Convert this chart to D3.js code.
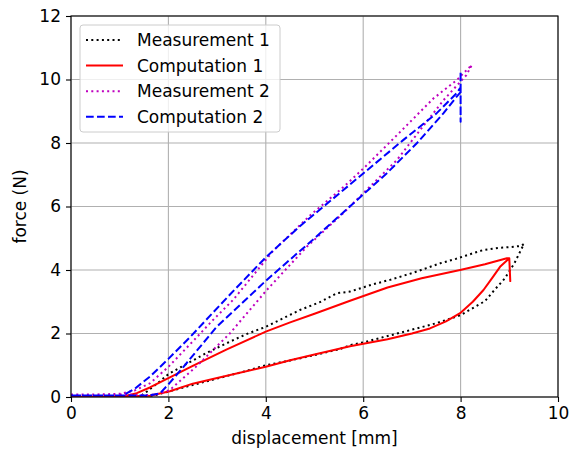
<!DOCTYPE html>
<html>
<head>
<meta charset="utf-8">
<script src="https://cdnjs.cloudflare.com/ajax/libs/d3/7.8.5/d3.min.js"></script>
<style>
  body { margin: 0; background: #fff; }
  text { font-family: "DejaVu Sans", sans-serif; }
</style>
</head>
<body>
<script>
//Tick values
var xTicks = [0, 2, 4, 6, 8, 10];
var yTicks = [0, 2, 4, 6, 8, 10, 12];

//Measurement 1 (black dotted)
var meas1X = [0, 0.5, 1.0, 1.5, 1.7, 2.0, 2.5, 3.0, 3.5, 4.0, 4.5, 5.0, 5.5, 5.75, 6.0, 6.4, 6.8, 7.2, 7.4, 7.7, 8.0, 8.25, 8.5, 8.7, 8.9, 9.1, 9.3,
  9.25, 9.0, 8.8, 8.47, 8.3, 8.1, 7.9, 7.58, 7.3, 7.0, 6.55, 6.2, 5.73, 5.46, 5.1, 4.7, 4.0, 3.6, 3.26, 2.8, 2.44, 2.0, 1.83, 1.55, 1.4];
var meas1Y = [0, 0, 0, 0.02, 0.05, 0.17, 0.38, 0.58, 0.78, 1.0, 1.15, 1.32, 1.5, 1.64, 1.72, 1.88, 2.04, 2.2, 2.28, 2.42, 2.58, 2.8, 3.02, 3.38, 3.72, 4.2, 4.82,
  4.76, 4.72, 4.7, 4.63, 4.55, 4.45, 4.35, 4.21, 4.06, 3.9, 3.69, 3.55, 3.32, 3.27, 2.98, 2.74, 2.21, 1.98, 1.74, 1.4, 1.1, 0.72, 0.5, 0.16, 0];

//Computation 1 (red solid)
var comp1X = [0, 1.07, 1.35, 1.62, 2.03, 2.5, 3.2, 4.0, 4.5, 5.0, 5.73, 6.5, 7.2, 7.99, 8.5, 8.95, 9.0, 9.02, 9.0,
  8.95, 8.81, 8.65, 8.47, 8.25, 7.99, 7.7, 7.37, 7.0, 6.5, 5.73, 5.0, 4.5, 4.0, 3.0, 2.5, 2.03, 1.62, 1.0, 0];
var comp1Y = [0, 0.02, 0.12, 0.3, 0.62, 0.98, 1.5, 2.06, 2.35, 2.62, 3.03, 3.45, 3.74, 4.0, 4.18, 4.37, 4.37, 3.65, 4.35,
  4.3, 4.1, 3.75, 3.37, 3.0, 2.64, 2.38, 2.16, 2.0, 1.82, 1.6, 1.34, 1.16, 0.95, 0.6, 0.42, 0.18, 0.04, 0.02, 0];

//Measurement 2 (magenta dotted)
var meas2X = [0, 0.5, 1.0, 1.3, 1.62, 2.0, 2.5, 2.9, 3.33, 4.15, 4.91, 5.6, 6.02, 6.76, 7.44, 7.92, 8.23,
  8.12, 7.65, 7.17, 6.69, 5.93, 5.59, 4.84, 4.02, 3.26, 2.6, 2.03, 1.75, 1.5, 1.0];
var meas2Y = [0.08, 0.08, 0.1, 0.2, 0.43, 0.95, 1.75, 2.4, 3.06, 4.6, 5.72, 6.62, 7.22, 8.35, 9.4, 9.98, 10.46,
  10.14, 9.35, 8.41, 7.46, 6.31, 5.79, 4.73, 3.37, 2.0, 1.0, 0.22, 0.08, 0.06, 0.08];

//Computation 2 (blue dashed)
var comp2X = [0, 1.07, 1.3, 1.62, 2.0, 2.44, 3.26, 4.0, 4.7, 5.32, 6.0, 6.82, 7.51, 7.92, 8.0, 8.0, 8.0, 8.0,
  7.92, 7.65, 7.1, 6.48, 5.87, 5.0, 4.0, 2.99, 2.31, 2.0, 1.83, 1.62, 1.0, 0];
var comp2Y = [0.05, 0.05, 0.25, 0.64, 1.2, 1.88, 3.22, 4.4, 5.38, 6.17, 7.04, 8.09, 8.94, 9.57, 9.75, 10.25, 8.67, 9.6,
  9.46, 8.94, 7.99, 7.04, 6.2, 5.0, 3.66, 2.21, 0.95, 0.4, 0.12, 0.05, 0.05, 0.05];

var series = [
  {name: "Measurement 1", x: meas1X, y: meas1Y, color: "#000000", dash: "2,3.3"},
  {name: "Computation 1", x: comp1X, y: comp1Y, color: "#ff0000", dash: null},
  {name: "Measurement 2", x: meas2X, y: meas2Y, color: "#bf00bf", dash: "2,3.3"},
  {name: "Computation 2", x: comp2X, y: comp2Y, color: "#0000ff", dash: "7.7,3.3"}
];

var fontSize = "17px";

var margin = {left: 71, right: 11, top: 16, bottom: 53},
    width = 569 - margin.left - margin.right,
    height = 450 - margin.top - margin.bottom;

var svg = d3.select("body")
    .append("svg")
    .attr("width", 569)
    .attr("height", 450)
    .append("g")
    .attr("transform", "translate(" + margin.left + "," + margin.top + ")");

var xScale = d3.scaleLinear().domain([0, 10]).range([0, width]);
var yScale = d3.scaleLinear().domain([0, 12]).range([height, 0]);

//Grid lines
svg.selectAll(".xgrid")
    .data(xTicks)
    .enter().append("line")
    .attr("x1", function(d) { return xScale(d); })
    .attr("x2", function(d) { return xScale(d); })
    .attr("y1", 0)
    .attr("y2", height)
    .style("stroke", "#b0b0b0")
    .style("stroke-width", 1.1);

svg.selectAll(".ygrid")
    .data(yTicks)
    .enter().append("line")
    .attr("y1", function(d) { return yScale(d); })
    .attr("y2", function(d) { return yScale(d); })
    .attr("x1", 0)
    .attr("x2", width)
    .style("stroke", "#b0b0b0")
    .style("stroke-width", 1.1);

//Data lines, clipped to the plot
svg.append("clipPath").attr("id", "clip")
    .append("rect").attr("x", 0).attr("y", 0).attr("width", width).attr("height", height);

var line = d3.line()
    .x(function(d) { return xScale(d[0]); })
    .y(function(d) { return yScale(d[1]); });

series.forEach(function(s) {
    var pts = s.x.map(function(v, i) { return [v, s.y[i]]; });
    svg.append("path")
        .attr("d", line(pts))
        .attr("clip-path", "url(#clip)")
        .style("fill", "none")
        .style("stroke", s.color)
        .style("stroke-width", 2)
        .style("stroke-linejoin", "round")
        .style("stroke-dasharray", s.dash);
});

//Axes
var xAxis = d3.axisBottom(xScale).tickValues(xTicks).tickSize(5).tickPadding(5).tickFormat(d3.format("d"));
var yAxis = d3.axisLeft(yScale).tickValues(yTicks).tickSize(5).tickPadding(5).tickFormat(d3.format("d"));

var gx = svg.append("g")
    .attr("transform", "translate(0," + height + ")")
    .call(xAxis);
var gy = svg.append("g").call(yAxis);

[gx, gy].forEach(function(g) {
    g.select(".domain").remove();
    g.selectAll("line").style("stroke", "#000").style("stroke-width", 1.1);
    g.selectAll("text").attr("font-size", fontSize).style("fill", "#000")
        .style("font-family", "DejaVu Sans");
});

//Frame
svg.append("rect")
    .attr("width", width)
    .attr("height", height)
    .style("fill", "none")
    .style("stroke", "#000")
    .style("stroke-width", 1.1);

//Axis labels
svg.append("text")
    .attr("x", width / 2)
    .attr("y", height + 47)
    .style("text-anchor", "middle")
    .attr("font-size", fontSize)
    .text("displacement [mm]");

svg.append("text")
    .attr("transform", "rotate(-90)")
    .attr("x", -height / 2)
    .attr("y", -45)
    .style("text-anchor", "middle")
    .attr("font-size", fontSize)
    .text("force (N)");

//Legend
var legend = svg.append("g").attr("transform", "translate(9,9)");

legend.append("rect")
    .attr("width", 200)
    .attr("height", 107)
    .attr("rx", 3)
    .style("fill", "#fff")
    .style("fill-opacity", 0.8)
    .style("stroke", "#cccccc")
    .style("stroke-width", 1);

series.forEach(function(s, i) {
    var yy = 15 + i * 25.6;
    legend.append("line")
        .attr("x1", 6)
        .attr("x2", 43)
        .attr("y1", yy)
        .attr("y2", yy)
        .style("stroke", s.color)
        .style("stroke-width", 2)
        .style("stroke-dasharray", s.dash);
    legend.append("text")
        .attr("x", 57)
        .attr("y", yy)
        .attr("dy", "0.36em")
        .attr("font-size", fontSize)
        .text(s.name);
});
</script>
</body>
</html>
